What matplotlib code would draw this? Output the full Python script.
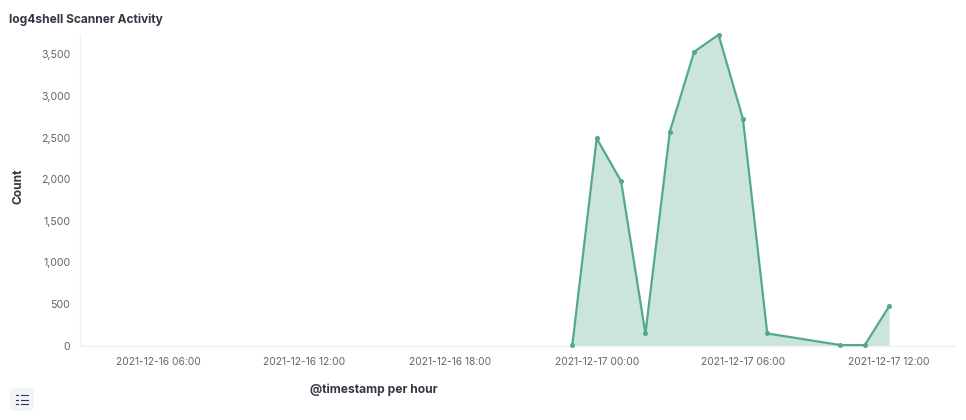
from matplotlib import pyplot as plt
from matplotlib.patches import FancyBboxPatch
from matplotlib.lines import Line2D
import matplotlib.dates as mdates
import pandas as pd

plt.rcParams['font.family'] = ['Inter', 'DejaVu Sans']

# values
times = ["2021-12-16 23:00", "2021-12-17 00:00", "2021-12-17 01:00", "2021-12-17 02:00",
         "2021-12-17 03:00", "2021-12-17 04:00", "2021-12-17 05:00", "2021-12-17 06:00",
         "2021-12-17 07:00", "2021-12-17 10:00", "2021-12-17 11:00", "2021-12-17 12:00"]
counts = [5, 2490, 1975, 145, 2570, 3530, 3735, 2725, 145, 5, 5, 470]
xticks = ["2021-12-16 06:00", "2021-12-16 12:00", "2021-12-16 18:00",
          "2021-12-17 00:00", "2021-12-17 06:00", "2021-12-17 12:00"]
yticks = [0, 500, 1000, 1500, 2000, 2500, 3000, 3500]

W, H = 966, 420
green = "#54a98a"
axis_col = "#eef0f3"
tick_col = "#5f6470"
dark = "#343741"

fig = plt.figure(figsize=(W / 100, H / 100), dpi=100)
ax = fig.add_axes([80 / W, (H - 345.5) / H, 875 / W, 311 / H])

x = pd.to_datetime(times)
ax.fill_between(x, counts, 0, color=green, alpha=0.3, linewidth=0)
ax.plot(x, counts, color=green, linewidth=1.6, marker="o", markersize=2.6, clip_on=False, zorder=3)

# pixel scale: 24.37 px per hour, 00:00 of the 17th sits at x=597
t0 = pd.Timestamp("2021-12-17 00:00")
ax.set_xlim(t0 + pd.Timedelta(hours=(80 - 596.7) / 24.37), t0 + pd.Timedelta(hours=(955 - 596.7) / 24.37))
ax.set_ylim(0, 3738)

ax.set_xticks(pd.to_datetime(xticks))
ax.xaxis.set_major_formatter(mdates.DateFormatter("%Y-%m-%d %H:%M"))
ax.set_yticks(yticks)
ax.set_yticklabels([f"{v:,}" for v in yticks])
ax.tick_params(length=0, labelcolor=tick_col)
ax.tick_params(axis="x", pad=8, labelsize=7.35)
ax.tick_params(axis="y", pad=7, labelsize=7.6)

for s in ["top", "right"]:
    ax.spines[s].set_visible(False)
for s in ["left", "bottom"]:
    ax.spines[s].set_color(axis_col)
    ax.spines[s].set_linewidth(1.0)

fig.text(9 / W, 1 - 19.5 / H, "log4shell Scanner Activity", fontsize=8.6, fontweight="bold",
         color=dark, va="center", ha="left")
fig.text(19 / W, 1 - 186 / H, "Count", fontsize=8.6, fontweight="bold", color=dark,
         rotation=90, va="center", ha="center")
fig.text(373.5 / W, 1 - 390 / H, "@timestamp per hour", fontsize=8.7, fontweight="bold",
         color=dark, va="center", ha="center")

# legend toggle button
fig.add_artist(FancyBboxPatch((10 / W, 1 - 411 / H), 24 / W, 23 / H, transform=fig.transFigure,
                              boxstyle="round,pad=0,rounding_size=0.005", mutation_aspect=W / H,
                              facecolor="#f1f4fa", edgecolor="none"))
for py in [395, 399.5, 404]:
    fig.add_artist(Line2D([20.5 / W, 28 / W], [1 - py / H] * 2, color=dark, linewidth=0.8))
    fig.add_artist(Line2D([16 / W, 18 / W], [1 - py / H] * 2, color=dark, linewidth=0.8))

fig.savefig("out.png", dpi=100)
